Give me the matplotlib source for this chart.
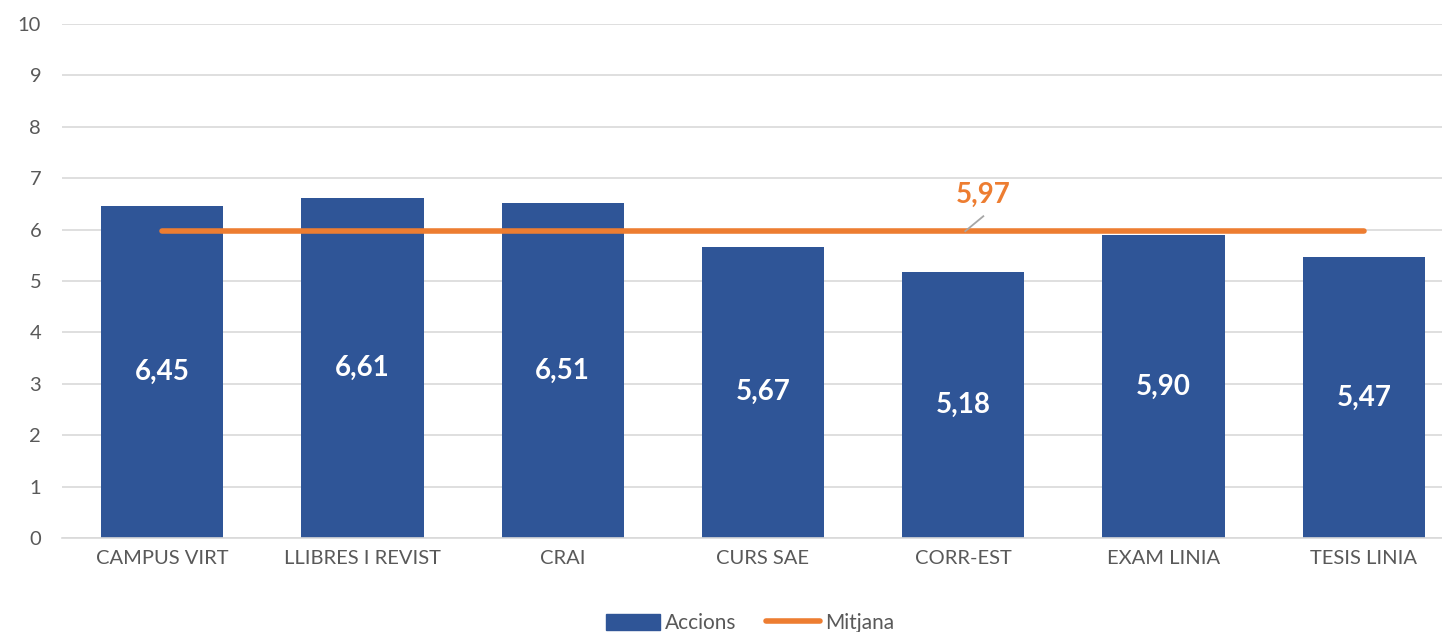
import matplotlib
matplotlib.use("Agg")
from matplotlib import pyplot as plt
from matplotlib.patches import Patch
from matplotlib.lines import Line2D

categories = ['CAMPUS VIRT', 'LLIBRES I REVIST', 'CRAI', 'CURS SAE', 'CORR-EST', 'EXAM LINIA', 'TESIS LINIA']
accions = [6.45, 6.61, 6.51, 5.67, 5.18, 5.90, 5.47]
mitjana = [5.97] * len(categories)
bar_labels = ['6,45', '6,61', '6,51', '5,67', '5,18', '5,90', '5,47']
mitjana_label = '5,97'

blue = '#2F5597'
orange = '#ED7D31'
gray = '#595959'

plt.rcParams['font.family'] = ['Lato', 'DejaVu Sans']

fig = plt.figure(figsize=(14.42, 6.32), dpi=100)
ax = fig.add_axes([62/1442, 1 - 538/632, 1402/1442, 514/632])

x = list(range(len(categories)))
ax.bar(x, accions, width=0.61, color=blue, zorder=2)
ax.plot(x, mitjana, color=orange, linewidth=4, solid_capstyle='round', zorder=3)

for xi, v, lab in zip(x, accions, bar_labels):
    ax.text(xi, v / 2, lab, ha='center', va='center', color='white',
            fontsize=20, fontweight='bold', zorder=4)

# label for the average line, with its small leader line
ax.plot([4.01, 4.10], [mitjana[0], 6.26], color='#A6A6A6', lw=1.3, zorder=4)
ax.text(4.1, 6.68, mitjana_label, ha='center', va='center', color=orange,
        fontsize=20, fontweight='bold', zorder=5)

ax.set_xlim(-0.5, len(categories) - 0.5)
ax.set_ylim(0, 10)
ax.set_yticks(range(0, 11))
ax.set_xticks(x)
ax.set_xticklabels(categories)
ax.grid(axis='y', color='#D9D9D9', linewidth=1.2, zorder=0)
ax.set_axisbelow(True)
for s in ['top', 'right', 'left']:
    ax.spines[s].set_visible(False)
ax.spines['bottom'].set_color('#D9D9D9')
ax.spines['bottom'].set_linewidth(1.2)
ax.tick_params(axis='both', length=0, labelsize=14.5, colors=gray, pad=9)
ax.tick_params(axis='y', pad=15)

handles = [Patch(facecolor=blue, edgecolor=blue, label='Accions'),
           Line2D([0], [0], color=orange, linewidth=4, solid_capstyle='round', label='Mitjana')]
leg = fig.legend(handles=handles, loc='lower center', bbox_to_anchor=(0.52, -0.031), ncol=2,
                 frameon=False, fontsize=15, handlelength=2.6, handleheight=0.8,
                 columnspacing=1.4, handletextpad=0.25)
for t in leg.get_texts():
    t.set_color(gray)

fig.savefig('out.png', dpi=100)
